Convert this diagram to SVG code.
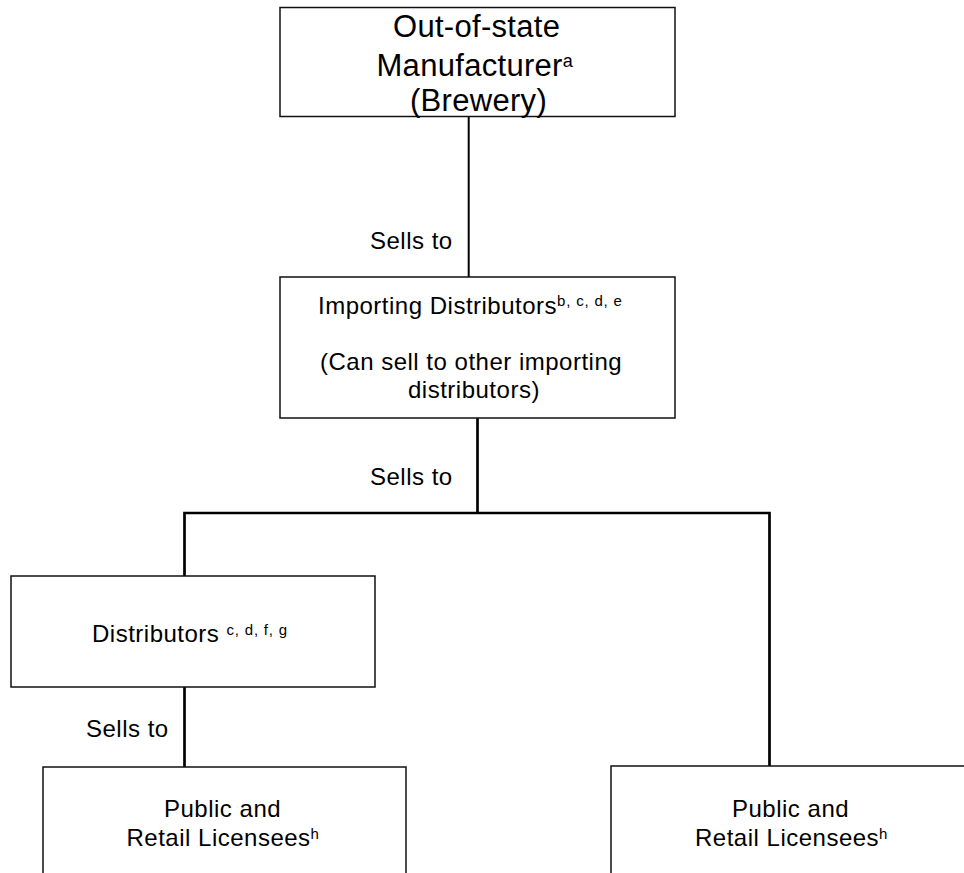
<svg xmlns="http://www.w3.org/2000/svg" width="964" height="873" viewBox="0 0 964 873">
<style>
.box{fill:#fff;stroke:#111;stroke-width:1.5}
.con{stroke:#000;fill:none;stroke-width:2.7}
text{font-family:"Liberation Sans",Arial,sans-serif;fill:#000}
.big{font-size:31px;letter-spacing:0.3px}
.t{font-size:24px;letter-spacing:0.5px}
.sup{font-size:15px;letter-spacing:0.8px}
.supa{font-size:18px;letter-spacing:0}
</style>
<rect width="964" height="873" fill="#fff"/>
<g id="connectors">
<line class="con" x1="468.7" y1="117" x2="468.7" y2="277" style="stroke-width:2"/>
<line class="con" x1="477.5" y1="418" x2="477.5" y2="513"/>
<polyline class="con" points="184.5,576 184.5,513 769.5,513 769.5,766"/>
<line class="con" x1="184.5" y1="687" x2="184.5" y2="767"/>
<text class="t" x="370" y="249">Sells to</text>
<text class="t" x="370" y="485">Sells to</text>
<text class="t" x="86" y="737">Sells to</text>
</g>
<g id="manufacturer">
<rect class="box" x="280" y="7.5" width="395" height="109"/>
<text class="big" x="393" y="36.5">Out-of-state</text>
<text class="big" x="376.5" y="75.5">Manufacturer<tspan class="supa" dy="-9">a</tspan></text>
<text class="big" x="410" y="111">(Brewery)</text>
</g>
<g id="importing">
<rect class="box" x="280" y="277" width="395" height="141"/>
<text class="t" x="318" y="314">Importing Distributors<tspan class="sup" dy="-8">b, c, d, e</tspan></text>
<text class="t" x="320" y="370">(Can sell to other importing</text>
<text class="t" x="408" y="398">distributors)</text>
</g>
<g id="distributors">
<rect class="box" x="11" y="576" width="364" height="111"/>
<text class="t" x="92" y="642">Distributors <tspan class="sup" dy="-7">c, d, f, g</tspan></text>
</g>
<g id="licensees-left">
<rect class="box" x="43" y="767" width="363" height="120"/>
<text class="t" x="164" y="816.5">Public and</text>
<text class="t" x="126.5" y="846">Retail Licensees<tspan class="sup" dy="-7">h</tspan></text>
</g>
<g id="licensees-right">
<rect class="box" x="611" y="766" width="363" height="120"/>
<text class="t" x="732" y="816.5">Public and</text>
<text class="t" x="695" y="846">Retail Licensees<tspan class="sup" dy="-7">h</tspan></text>
</g>
</svg>
